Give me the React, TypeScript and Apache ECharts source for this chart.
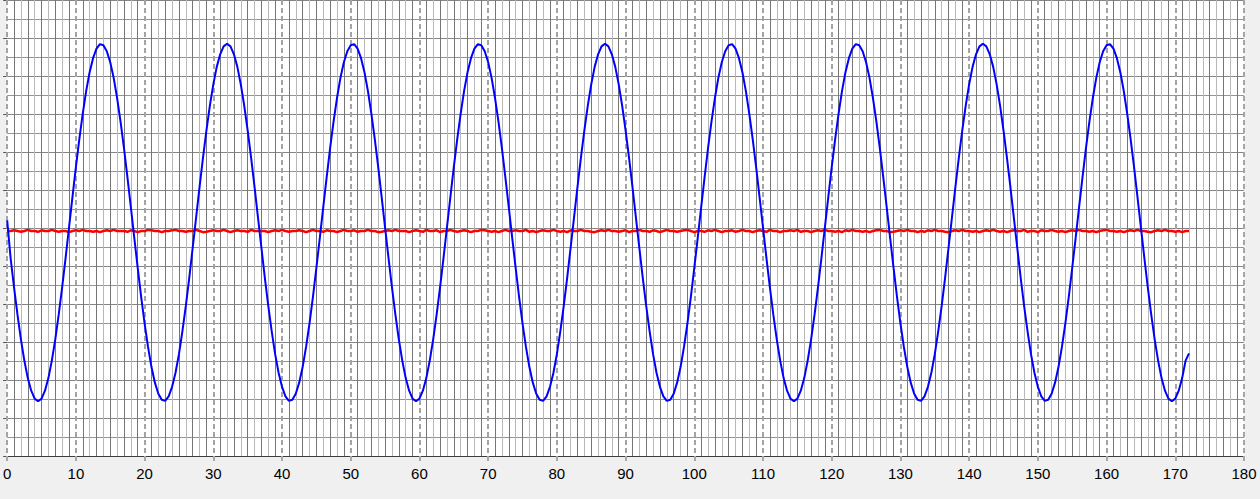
import React, { useEffect, useRef } from "react";
import * as echarts from "echarts";

// Sample spacing of both signals on the x axis (units)
const SAMPLE_STEP = 0.5;

// Axis ranges and tick steps
const X_MIN = 0;
const X_MAX = 180;
const X_INTERVAL = 10;
const X_MINOR_INTERVAL = 1;
const Y_MIN = -6;
const Y_MAX = 6;
const Y_INTERVAL = 1;

// Blue signal (one value per 0.5 unit, x = 0 … 172)
const blueValues: number[] = [
  0.20,-0.79,-1.56,-2.28,-2.93,-3.49,-3.95,-4.28,-4.49,-4.56,
  -4.49,-4.28,-3.95,-3.49,-2.93,-2.28,-1.56,-0.79,0.01,0.81,
  1.60,2.34,3.01,3.61,4.10,4.47,4.72,4.84,4.81,4.65,
  4.36,3.95,3.42,2.80,2.10,1.34,0.55,-0.26,-1.05,-1.81,
  -2.51,-3.13,-3.66,-4.07,-4.36,-4.52,-4.55,-4.43,-4.18,-3.81,
  -3.32,-2.72,-2.05,-1.31,-0.52,0.28,1.08,1.85,2.57,3.22,
  3.78,4.24,4.57,4.78,4.85,4.78,4.57,4.24,3.78,3.22,
  2.57,1.85,1.08,0.28,-0.52,-1.31,-2.05,-2.72,-3.32,-3.81,
  -4.18,-4.43,-4.55,-4.52,-4.36,-4.07,-3.66,-3.13,-2.51,-1.81,
  -1.05,-0.26,0.55,1.34,2.10,2.80,3.42,3.95,4.36,4.65,
  4.81,4.84,4.72,4.47,4.10,3.61,3.01,2.34,1.60,0.81,
  0.01,-0.79,-1.56,-2.28,-2.93,-3.49,-3.95,-4.28,-4.49,-4.56,
  -4.49,-4.28,-3.95,-3.49,-2.93,-2.28,-1.56,-0.79,0.01,0.81,
  1.60,2.34,3.01,3.61,4.10,4.47,4.72,4.84,4.81,4.65,
  4.36,3.95,3.42,2.80,2.10,1.34,0.55,-0.26,-1.05,-1.81,
  -2.51,-3.13,-3.66,-4.07,-4.36,-4.52,-4.55,-4.43,-4.18,-3.81,
  -3.32,-2.72,-2.05,-1.31,-0.52,0.28,1.08,1.85,2.57,3.22,
  3.78,4.24,4.57,4.78,4.85,4.78,4.57,4.24,3.78,3.22,
  2.57,1.85,1.08,0.28,-0.52,-1.31,-2.05,-2.72,-3.32,-3.81,
  -4.18,-4.43,-4.55,-4.52,-4.36,-4.07,-3.66,-3.13,-2.51,-1.81,
  -1.05,-0.26,0.55,1.34,2.10,2.80,3.42,3.95,4.36,4.65,
  4.81,4.84,4.72,4.47,4.10,3.61,3.01,2.34,1.60,0.81,
  0.01,-0.79,-1.56,-2.28,-2.93,-3.49,-3.95,-4.28,-4.49,-4.56,
  -4.49,-4.28,-3.95,-3.49,-2.93,-2.28,-1.56,-0.79,0.01,0.81,
  1.60,2.34,3.01,3.61,4.10,4.47,4.72,4.84,4.81,4.65,
  4.36,3.95,3.42,2.80,2.10,1.34,0.55,-0.26,-1.05,-1.81,
  -2.51,-3.13,-3.66,-4.07,-4.36,-4.52,-4.55,-4.43,-4.18,-3.81,
  -3.32,-2.72,-2.05,-1.31,-0.52,0.28,1.08,1.85,2.57,3.22,
  3.78,4.24,4.57,4.78,4.85,4.78,4.57,4.24,3.78,3.22,
  2.57,1.85,1.08,0.28,-0.52,-1.31,-2.05,-2.72,-3.32,-3.81,
  -4.18,-4.43,-4.55,-4.52,-4.36,-4.07,-3.66,-3.13,-2.51,-1.81,
  -1.05,-0.26,0.55,1.34,2.10,2.80,3.42,3.95,4.36,4.65,
  4.81,4.84,4.72,4.47,4.10,3.61,3.01,2.34,1.60,0.81,
  0.01,-0.79,-1.56,-2.28,-2.93,-3.49,-3.95,-4.28,-4.49,-4.56,
  -4.49,-4.28,-3.95,-3.49,-3.30,
];

// Red signal (flat, slightly noisy, one value per 0.5 unit, x = 0 … 172)
const redValues: number[] = [
  -0.08,-0.08,-0.06,-0.08,-0.10,-0.08,-0.05,-0.08,-0.08,-0.10,-0.06,-0.08,-0.08,-0.05,-0.08,
  -0.10,-0.08,-0.08,-0.11,-0.08,-0.06,-0.08,-0.05,-0.08,-0.08,-0.10,-0.08,-0.11,-0.08,-0.06,
  -0.08,-0.05,-0.08,-0.08,-0.08,-0.10,-0.06,-0.08,-0.11,-0.08,-0.08,-0.05,-0.06,-0.08,-0.08,
  -0.11,-0.08,-0.08,-0.06,-0.05,-0.08,-0.08,-0.10,-0.08,-0.08,-0.05,-0.08,-0.11,-0.10,-0.08,
  -0.06,-0.08,-0.08,-0.05,-0.08,-0.11,-0.08,-0.06,-0.08,-0.08,-0.10,-0.05,-0.08,-0.08,-0.08,
  -0.08,-0.11,-0.08,-0.06,-0.08,-0.05,-0.08,-0.10,-0.08,-0.08,-0.06,-0.08,-0.11,-0.08,-0.05,
  -0.08,-0.08,-0.10,-0.06,-0.08,-0.08,-0.11,-0.08,-0.05,-0.08,-0.08,-0.06,-0.10,-0.08,-0.08,
  -0.05,-0.08,-0.08,-0.11,-0.10,-0.08,-0.06,-0.08,-0.05,-0.08,-0.08,-0.08,-0.11,-0.08,-0.06,
  -0.08,-0.10,-0.05,-0.08,-0.08,-0.06,-0.11,-0.08,-0.08,-0.05,-0.08,-0.10,-0.08,-0.06,-0.08,
  -0.11,-0.08,-0.08,-0.05,-0.06,-0.08,-0.10,-0.08,-0.11,-0.08,-0.05,-0.08,-0.08,-0.06,-0.08,
  -0.08,-0.05,-0.10,-0.08,-0.11,-0.08,-0.06,-0.08,-0.08,-0.05,-0.08,-0.10,-0.08,-0.11,-0.06,
  -0.08,-0.08,-0.05,-0.08,-0.08,-0.10,-0.11,-0.08,-0.06,-0.08,-0.05,-0.08,-0.08,-0.10,-0.08,
  -0.06,-0.11,-0.08,-0.08,-0.05,-0.08,-0.08,-0.10,-0.06,-0.08,-0.11,-0.08,-0.05,-0.08,-0.08,
  -0.10,-0.08,-0.06,-0.05,-0.08,-0.11,-0.08,-0.08,-0.10,-0.06,-0.08,-0.05,-0.08,-0.11,-0.08,
  -0.08,-0.06,-0.10,-0.08,-0.05,-0.08,-0.08,-0.11,-0.08,-0.06,-0.08,-0.10,-0.05,-0.08,-0.08,
  -0.11,-0.08,-0.08,-0.06,-0.08,-0.05,-0.10,-0.08,-0.08,-0.11,-0.08,-0.06,-0.08,-0.05,-0.08,
  -0.08,-0.10,-0.08,-0.11,-0.06,-0.08,-0.05,-0.08,-0.08,-0.10,-0.08,-0.11,-0.08,-0.06,-0.05,
  -0.08,-0.08,-0.11,-0.10,-0.08,-0.06,-0.08,-0.05,-0.08,-0.08,-0.11,-0.08,-0.10,-0.06,-0.08,
  -0.05,-0.08,-0.08,-0.10,-0.11,-0.08,-0.06,-0.08,-0.05,-0.08,-0.08,-0.10,-0.08,-0.11,-0.08,
  -0.06,-0.08,-0.05,-0.08,-0.10,-0.08,-0.11,-0.08,-0.06,-0.08,-0.08,-0.05,-0.10,-0.08,-0.08,
  -0.11,-0.06,-0.08,-0.08,-0.05,-0.08,-0.10,-0.08,-0.11,-0.08,-0.06,-0.08,-0.05,-0.08,-0.08,
  -0.10,-0.08,-0.11,-0.08,-0.06,-0.05,-0.08,-0.08,-0.10,-0.08,-0.11,-0.08,-0.06,-0.08,-0.05,
  -0.08,-0.08,-0.10,-0.11,-0.08,-0.06,-0.08,-0.05,-0.08,-0.08,-0.10,-0.08,-0.11,-0.08,-0.08,
];

// Colours of the 1-unit grid lines, repeating every 10 units (multiples of 10 are drawn dashed by the main axis)
const MINOR_LINE_COLORS = [
  "rgba(0,0,0,0)", "#767676", "#b8b8b8", "#767676", "#b8b8b8",
  "#767676", "#b8b8b8", "#767676", "#b8b8b8", "#767676",
];

export default function App() {
  const ref = useRef<HTMLDivElement>(null);

  useEffect(() => {
    if (!ref.current) return;
    const chart = echarts.init(ref.current, undefined, { renderer: "svg" });

    const toPairs = (vals: number[]) => vals.map((v, i) => [i * SAMPLE_STEP, v]);

    chart.setOption({
      animation: false,
      backgroundColor: "#f0f0f0",
      grid: {
        left: 5,
        right: 16,
        top: 0,
        bottom: 43,
        show: true,
        backgroundColor: "#ffffff",
        borderWidth: 0,
      },
      xAxis: [
        {
          type: "value",
          min: X_MIN,
          max: X_MAX,
          interval: X_INTERVAL,
          position: "bottom",
          z: 1,
          axisLine: { show: true, onZero: false, lineStyle: { color: "#3c3c3c", width: 1 } },
          axisTick: { show: true, length: 5, lineStyle: { color: "#a8a8a8", width: 2 } },
          axisLabel: {
            color: "#000000",
            fontSize: 15,
            fontFamily: "'Liberation Sans', Arial, sans-serif",
            margin: 10,
          },
          splitLine: { show: true, lineStyle: { color: "#a4a4a4", width: 2, type: [5, 3] } },
        },
        {
          type: "value",
          min: X_MIN,
          max: X_MAX,
          interval: X_MINOR_INTERVAL,
          position: "top",
          z: 0,
          axisLine: { show: false },
          axisTick: { show: false },
          axisLabel: { show: false },
          splitLine: { show: true, lineStyle: { color: MINOR_LINE_COLORS, width: 1 } },
        },
      ],
      yAxis: {
        type: "value",
        min: Y_MIN,
        max: Y_MAX,
        interval: Y_INTERVAL,
        z: 0,
        axisLine: { show: false },
        axisTick: { show: true, length: 4, lineStyle: { color: "#555555" } },
        axisLabel: { show: false },
        splitLine: { show: true, lineStyle: { color: "#858585", width: 1 } },
        minorTick: { show: false, splitNumber: 2 },
        minorSplitLine: { show: true, lineStyle: { color: "#959595", width: 1 } },
      },
      series: [
        {
          type: "line",
          xAxisIndex: 0,
          data: toPairs(redValues),
          showSymbol: false,
          lineStyle: { color: "#ff0000", width: 2.5 },
          itemStyle: { color: "#ff0000" },
        },
        {
          type: "line",
          xAxisIndex: 0,
          data: toPairs(blueValues),
          showSymbol: false,
          lineStyle: { color: "#0000ff", width: 2 },
          itemStyle: { color: "#0000ff" },
        },
      ],
    });

    return () => chart.dispose();
  }, []);

  return (
    <div
      ref={ref}
      style={{ position: "fixed", left: 0, top: 0, width: 1260, height: 499, background: "#f0f0f0" }}
    />
  );
}
